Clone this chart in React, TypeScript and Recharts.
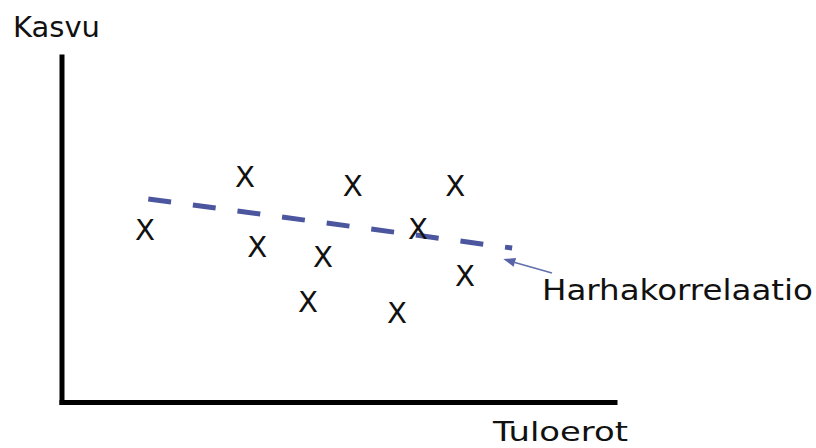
import React from "react";
import { ReferenceLine, Scatter, ScatterChart, XAxis, YAxis } from "recharts";

// scatter marks (0..100 on both axes)
const pointX = [15.0, 33.1, 35.3, 52.6, 47.2, 44.5, 60.6, 71.1, 64.4, 72.9];
const pointY = [49.9, 65.3, 45.0, 62.7, 42.1, 29.1, 25.9, 62.7, 50.2, 36.6];

// dashed "spurious correlation" line
const trendX = [15.6, 81.4];
const trendY = [58.9, 44.7];

// arrow pointing at the dashed line, tail first
const arrowX = [88.6, 79.8];
const arrowY = [37.5, 41.5];

const yTitle = "Kasvu";
const xTitle = "Tuloerot";
const arrowLabel = "Harhakorrelaatio";

const FONT = "'DejaVu Sans', sans-serif";
const INK = "#111";
const BLUE = "#4b569f";

const points = pointX.map((x, i) => ({ x, y: pointY[i] }));

const XMark = (props: any) => {
  const { cx, cy } = props;
  return (
    <text
      x={cx}
      y={cy + 10}
      textAnchor="middle"
      fontSize={28}
      fontFamily={FONT}
      fill={INK}
      textLength={20}
      lengthAdjust="spacingAndGlyphs"
    >
      X
    </text>
  );
};

const Arrow = (props: any) => {
  const { x1, y1, x2, y2 } = props;
  const ang = Math.atan2(y2 - y1, x2 - x1);
  const len = 12;
  const half = 4.5;
  const bx = x2 - len * Math.cos(ang);
  const by = y2 - len * Math.sin(ang);
  const nx = -Math.sin(ang) * half;
  const ny = Math.cos(ang) * half;
  return (
    <g>
      <line x1={x1} y1={y1} x2={bx} y2={by} stroke="#6270ac" strokeWidth={1.6} />
      <polygon points={`${x2},${y2} ${bx + nx},${by + ny} ${bx - nx},${by - ny}`} fill="#5663a6" />
      <text
        x={x1 - 10}
        y={y1 + 27}
        fontSize={28}
        fontFamily={FONT}
        fill={INK}
        textLength={271}
        lengthAdjust="spacingAndGlyphs"
      >
        {arrowLabel}
      </text>
    </g>
  );
};

const YTitle = (props: any) => {
  const vb = props.viewBox || {};
  const left = vb.x + vb.width;
  return (
    <text
      x={left - 49}
      y={vb.y - 20}
      fontSize={29}
      fontFamily={FONT}
      fill={INK}
      textLength={87}
      lengthAdjust="spacingAndGlyphs"
    >
      {yTitle}
    </text>
  );
};

const XTitle = (props: any) => {
  const vb = props.viewBox || {};
  return (
    <text
      x={vb.x + vb.width - 122}
      y={vb.y + 38}
      fontSize={27}
      fontFamily={FONT}
      fill={INK}
      textLength={135}
      lengthAdjust="spacingAndGlyphs"
    >
      {xTitle}
    </text>
  );
};

const axisLine = { stroke: "#000", strokeWidth: 5, strokeLinecap: "square" as const };

export default function App() {
  return (
    <div style={{ position: "absolute", left: 0, top: 0, width: 816, height: 448, background: "#fff" }}>
      <ScatterChart width={816} height={448} margin={{ top: 57, right: 201, bottom: 35.5, left: 52 }}>
        <XAxis
          type="number"
          dataKey="x"
          domain={[0, 100]}
          height={10}
          tick={false}
          tickLine={false}
          axisLine={axisLine}
          label={<XTitle />}
        />
        <YAxis
          type="number"
          dataKey="y"
          domain={[0, 100]}
          width={10}
          tick={false}
          tickLine={false}
          axisLine={axisLine}
          label={<YTitle />}
        />
        <Scatter data={points} shape={XMark} isAnimationActive={false} />
        <ReferenceLine
          segment={[
            { x: trendX[0], y: trendY[0] },
            { x: trendX[1], y: trendY[1] },
          ]}
          stroke={BLUE}
          strokeWidth={5}
          strokeDasharray="23 22"
          ifOverflow="visible"
        />
        <ReferenceLine
          segment={[
            { x: arrowX[0], y: arrowY[0] },
            { x: arrowX[1], y: arrowY[1] },
          ]}
          shape={Arrow}
          ifOverflow="visible"
        />
      </ScatterChart>
    </div>
  );
}
